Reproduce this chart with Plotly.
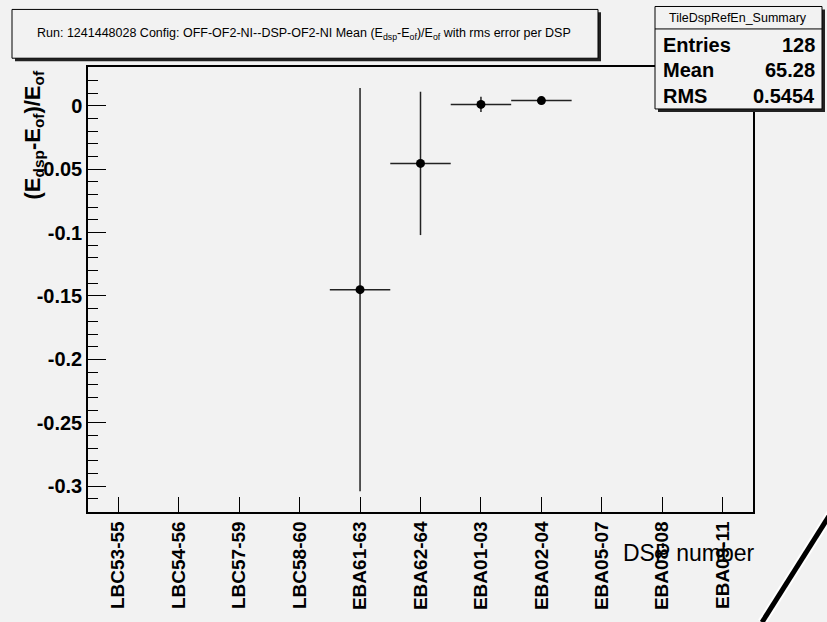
import plotly.graph_objects as go

# ---------------- data ----------------
dsp_labels = ["LBC53-55", "LBC54-56", "LBC57-59", "LBC58-60", "EBA61-63", "EBA62-64",
              "EBA01-03", "EBA02-04", "EBA05-07", "EBA08-08", "EBA09-11"]
point_labels = ["EBA61-63", "EBA62-64", "EBA01-03", "EBA02-04"]
mean_vals = [-0.145, -0.0455, 0.001, 0.004]
rms_vals = [0.159, 0.0565, 0.006, 0.003]
y_tick_vals = [0, -0.05, -0.1, -0.15, -0.2, -0.25, -0.3]
y_tick_text = ["0", "-0.05", "-0.1", "-0.15", "-0.2", "-0.25", "-0.3"]
stats_names = ["Entries", "Mean", "RMS"]
stats_values = ["128", "65.28", "0.5454"]
hist_name = "TileDspRefEn_Summary"
title_text = ("Run: 1241448028 Config: OFF-OF2-NI--DSP-OF2-NI Mean (E<sub>dsp</sub>-E<sub>of</sub>)/E<sub>of</sub>"
              " with rms error per DSP")

# ---------------- layout geometry ----------------
WIDTH, HEIGHT = 827, 622
L, R, T, B = 88, 753, 67, 523
PW, PH = R - L, B - T
BG = "#f2f2f2"
FONT = "Liberation Sans, Arial, sans-serif"


def px(X):
    return (X - L) / PW


def py(Y):
    return (B - Y) / PH


x_pos = [dsp_labels.index(lbl) for lbl in point_labels]

fig = go.Figure()
fig.add_trace(go.Scatter(
    x=x_pos, y=mean_vals, mode="markers",
    marker=dict(color="black", size=9),
    error_y=dict(type="data", array=rms_vals, color="#222", thickness=1.5, width=0),
    error_x=dict(type="constant", value=0.5, color="#222", thickness=1.5, width=0),
    showlegend=False,
))

shapes = []
annotations = []

# title box with shadow
shapes.append(dict(type="rect", xref="paper", yref="paper", x0=px(15), x1=px(601), y0=py(11), y1=py(61),
                   fillcolor="#222", line=dict(width=0), layer="above"))
shapes.append(dict(type="rect", xref="paper", yref="paper", x0=px(12), x1=px(598), y0=py(8), y1=py(58),
                   fillcolor=BG, line=dict(color="black", width=1), layer="above"))
annotations.append(dict(xref="paper", yref="paper", x=px(304), y=py(33), text=title_text, showarrow=False,
                        xanchor="center", yanchor="middle", font=dict(family=FONT, size=12.5, color="black")))

# stats box with shadow
shapes.append(dict(type="rect", xref="paper", yref="paper", x0=px(658), x1=px(825), y0=py(8), y1=py(113),
                   fillcolor="#222", line=dict(width=0), layer="above"))
shapes.append(dict(type="rect", xref="paper", yref="paper", x0=px(655), x1=px(822), y0=py(5), y1=py(110),
                   fillcolor=BG, line=dict(color="black", width=1), layer="above"))
shapes.append(dict(type="line", xref="paper", yref="paper", x0=px(655), x1=px(822), y0=py(28), y1=py(28),
                   line=dict(color="black", width=1), layer="above"))
annotations.append(dict(xref="paper", yref="paper", x=px(738), y=py(16.5), text=hist_name, showarrow=False,
                        xanchor="center", yanchor="middle", font=dict(family=FONT, size=12.5, color="black")))
for i, (nm, val) in enumerate(zip(stats_names, stats_values)):
    yy = py(44 + 26.5 * i)
    annotations.append(dict(xref="paper", yref="paper", x=px(661), y=yy, text="<b>%s</b>" % nm, showarrow=False,
                            xanchor="left", yanchor="middle", font=dict(family=FONT, size=20, color="black")))
    annotations.append(dict(xref="paper", yref="paper", x=px(817), y=yy, text="<b>%s</b>" % val, showarrow=False,
                            xanchor="right", yanchor="middle", font=dict(family=FONT, size=20, color="black")))

# axis titles
annotations.append(dict(xref="paper", yref="paper", x=px(34), y=py(68), textangle=-90,
                        text="<b>(E<sub>dsp</sub>-E<sub>of</sub>)/E<sub>of</sub></b>", showarrow=False,
                        xanchor="center", yanchor="top", font=dict(family=FONT, size=22, color="black")))
annotations.append(dict(xref="paper", yref="paper", x=px(757), y=py(565), text="DSP number", showarrow=False,
                        xanchor="right", yanchor="middle", font=dict(family=FONT, size=23, color="black")))

# decorative slash
shapes.append(dict(type="line", xref="paper", yref="paper", x0=px(842), y0=py(506), x1=px(762), y1=py(636),
                   line=dict(color="white", width=9), layer="above"))
shapes.append(dict(type="line", xref="paper", yref="paper", x0=px(842), y0=py(506), x1=px(762), y1=py(636),
                   line=dict(color="black", width=5), layer="above"))

fig.update_layout(
    width=WIDTH, height=HEIGHT,
    margin=dict(l=L, r=WIDTH - R, t=T, b=HEIGHT - B, pad=0),
    paper_bgcolor=BG, plot_bgcolor=BG,
    shapes=shapes, annotations=annotations,
    font=dict(family=FONT, color="black"),
)
fig.update_xaxes(
    range=[-0.5, len(dsp_labels) - 0.5], tickmode="array", tickvals=list(range(len(dsp_labels))),
    ticktext=dsp_labels, tickangle=-90, ticks="inside", ticklen=15, tickwidth=1, tickcolor="black",
    tickfont=dict(family=FONT, size=19, color="black", weight="bold"),
    showline=True, linecolor="black", linewidth=1.5, mirror=True, showgrid=False, zeroline=False,
)
fig.update_yaxes(
    range=[-0.3203, 0.0305], tickmode="array", tickvals=y_tick_vals, ticktext=y_tick_text,
    ticks="inside", ticklen=18, tickwidth=1, tickcolor="black",
    minor=dict(tickmode="linear", tick0=0, dtick=0.01, ticks="inside", ticklen=10, tickcolor="black", tickwidth=1),
    tickfont=dict(family=FONT, size=20, color="black", weight="bold"),
    showline=True, linecolor="black", linewidth=1.5, mirror=True, showgrid=False, zeroline=False,
)

fig.write_html("out.html", config={"displayModeBar": False},
               post_script="document.body.style.margin='0';document.body.style.background='%s';" % BG)
